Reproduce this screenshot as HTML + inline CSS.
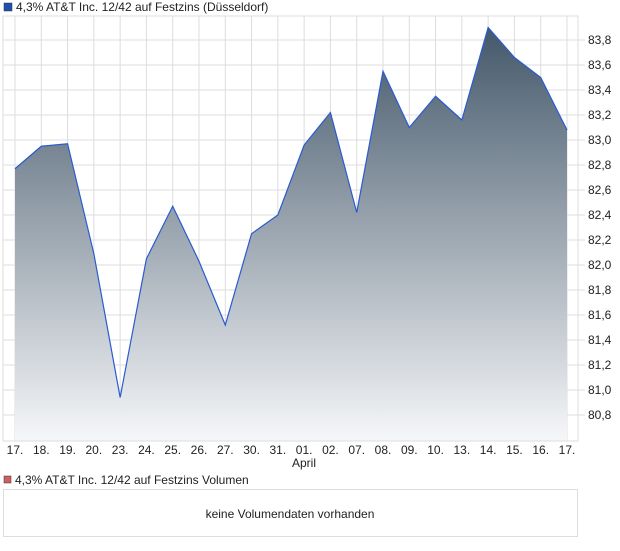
<!DOCTYPE html>
<html><head><meta charset="utf-8"><style>
body{margin:0;background:#fff;font-family:"Liberation Sans",sans-serif;}
svg text{font-family:"Liberation Sans",sans-serif;font-size:12px;fill:#222;}
</style></head><body>
<svg width="620" height="546">
<defs><linearGradient id="g" x1="0" y1="0" x2="0" y2="1">
<stop offset="0" stop-color="#44586a"/><stop offset="1" stop-color="#f6f7f9"/></linearGradient></defs>
<rect x="4" y="3" width="8" height="8" fill="#1f4fb0" stroke="#333" stroke-width="0.5"/>
<text x="16" y="11">4,3% AT&amp;T Inc. 12/42 auf Festzins (Düsseldorf)</text>
<g id="grid"></g>
<path id="area" fill="url(#g)"/>
<path id="line" fill="none" stroke="#2a5bd0" stroke-width="1.2"/>
<rect x="3" y="16" width="575" height="425" fill="none" stroke="#ddd"/>
<g id="yt"></g><g id="xt"></g>
<text x="304" y="467" text-anchor="middle">April</text>
<rect x="4" y="476" width="7" height="7" fill="#d06060" stroke="#333" stroke-width="0.5"/>
<text x="15" y="484">4,3% AT&amp;T Inc. 12/42 auf Festzins Volumen</text>
<rect x="3.5" y="489.5" width="574" height="47" fill="#fff" stroke="#ddd"/>
<text x="290" y="518" text-anchor="middle">keine Volumendaten vorhanden</text>
</svg>
<script>
const labels=["17.","18.","19.","20.","23.","24.","25.","26.","27.","30.","31.","01.","02.","07.","08.","09.","10.","13.","14.","15.","16.","17."];
const prices=[82.77,82.95,82.97,82.09,80.94,82.05,82.47,82.03,81.52,82.25,82.40,82.96,83.22,82.42,83.55,83.10,83.35,83.16,83.90,83.66,83.50,83.08];
const yTicks=[80.8,81.0,81.2,81.4,81.6,81.8,82.0,82.2,82.4,82.6,82.8,83.0,83.2,83.4,83.6,83.8];
const ns="http://www.w3.org/2000/svg";
const x=i=>15+i*(552/(labels.length-1));
const y=v=>140-(v-83)*125;
const grid=document.getElementById('grid'),yt=document.getElementById('yt'),xt=document.getElementById('xt');
function mk(tag,a,p){const e=document.createElementNS(ns,tag);for(const k in a)e.setAttribute(k,a[k]);p.appendChild(e);return e;}
yTicks.forEach(v=>{
 const l=mk('line',{x1:3,x2:585,y1:y(v),y2:y(v),stroke:'#ddd'},grid);
 
 
 const t=mk('text',{x:588,y:y(v)+4},yt);t.textContent=v.toFixed(1).replace('.',',');
 
 
});
labels.forEach((s,i)=>{
 const l=mk('line',{x1:x(i),x2:x(i),y1:16,y2:441,stroke:'#ddd'},grid);
 
 
 const t=mk('text',{x:x(i),y:454,'text-anchor':'middle'},xt);t.textContent=s;
 
 
});
let d=prices.map((v,i)=>(i?'L':'M')+x(i)+','+y(v)).join('');
document.getElementById('line').setAttribute('d',d);
document.getElementById('area').setAttribute('d',d+'L'+x(prices.length-1)+',441L'+x(0)+',441Z');
</script>
</body></html>
